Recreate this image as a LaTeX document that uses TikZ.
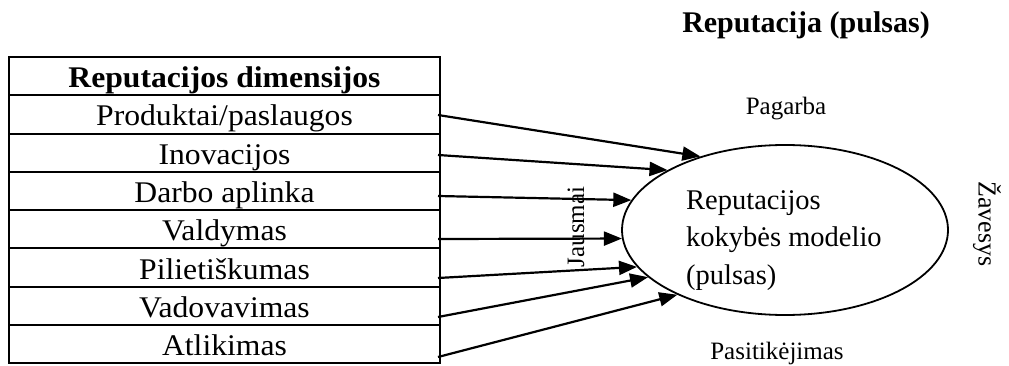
\documentclass[tikz,border=0pt]{standalone}
\usepackage{fontspec}
\setmainfont{Liberation Serif}
\usepackage{graphicx}
\usetikzlibrary{shapes.geometric,arrows.meta}
\tikzset{
  rowbox/.style={draw,line width=2pt,minimum width=431pt,minimum height=38.25pt,inner sep=0pt,outer sep=0pt},
  rowtext/.style={anchor=base,inner sep=0pt,font=\fontsize{30}{34}\selectfont},
  conn/.style={line width=2.2pt,-{Triangle[length=18pt,width=14pt]}},
  lbl/.style={inner sep=0pt,font=\fontsize{25}{30}\selectfont},
  etext/.style={anchor=base west,inner sep=0pt,font=\fontsize{28.5}{34}\selectfont},
}
\newcommand{\wide}[1]{\scalebox{1.055}[1]{#1}}
\begin{document}
\begin{tikzpicture}[x=1pt,y=-1pt]
\useasboundingbox (0,0) rectangle (1009,366);
% table rows
\node[rowbox] (h)  at (224.5,76.25) {};
\node[rowbox] (r1) at (224.5,114.5) {};
\node[rowbox] (r2) at (224.5,152.75) {};
\node[rowbox] (r3) at (224.5,191) {};
\node[rowbox] (r4) at (224.5,229.25) {};
\node[rowbox] (r5) at (224.5,267.5) {};
\node[rowbox] (r6) at (224.5,305.75) {};
\node[rowbox] (r7) at (224.5,344) {};
\node[rowtext] (th) at ([yshift=-11.5pt]h.center) {\wide{\bfseries Reputacijos dimensijos}};
\node[rowtext] (t1) at ([yshift=-11.5pt]r1.center) {\wide{Produktai/paslaugos}};
\node[rowtext] (t2) at ([yshift=-11.5pt]r2.center) {\wide{Inovacijos}};
\node[rowtext] (t3) at ([yshift=-11.5pt]r3.center) {\wide{Darbo aplinka}};
\node[rowtext] (t4) at ([yshift=-11.5pt]r4.center) {\wide{Valdymas}};
\node[rowtext] (t5) at ([yshift=-11.5pt]r5.center) {\wide{Pilietiškumas}};
\node[rowtext] (t6) at ([yshift=-11.5pt]r6.center) {\wide{Vadovavimas}};
\node[rowtext] (t7) at ([yshift=-11.5pt]r7.center) {\wide{Atlikimas}};
% title
\node[anchor=base,inner sep=0pt,font=\fontsize{30}{34}\selectfont\bfseries] (title) at (806,33) {Reputacija (pulsas)};
% ellipse
\node[draw,ellipse,line width=1.8pt,minimum width=326pt,minimum height=170pt,inner sep=0pt] (ell) at (785,230) {};
\begin{scope}
\clip (660,170) rectangle (920,289);
\node[etext] (e1) at (686,210) {Reputacijos};
\node[etext] (e2) at (686,247) {kokybės modelio};
\node[etext] (e3) at (686,284) {(pulsas)};
\end{scope}
% labels
\node[lbl,anchor=base] (pag) at (786,115) {Pagarba};
\node[lbl,anchor=base] (pas) at (777,359) {Pasitikėjimas};
\node[lbl,rotate=90] (jau) at (576,227) {Jausmai};
\node[lbl,rotate=-90,font=\fontsize{26}{30}\selectfont] (zav) at (987,224) {Žavesys};
% connector start points
\coordinate (s1) at (438,115);
\coordinate (s2) at (438,155);
\coordinate (s3) at (438,196);
\coordinate (s4) at (438,239);
\coordinate (s5) at (438,278);
\coordinate (s6) at (438,317);
\coordinate (s7) at (438,357);
\draw[conn] (s1) -- (ell.139.7);
\draw[conn] (s2) -- (ell.153.8);
\draw[conn] (s3) -- (ell.169.2);
\draw[conn] (s4) -- (ell.183.2);
\draw[conn] (s5) -- (ell.194.2);
\draw[conn] (s6) -- (ell.199.2);
\draw[conn] (s7) -- (ell.211.3);
\end{tikzpicture}
\end{document}
